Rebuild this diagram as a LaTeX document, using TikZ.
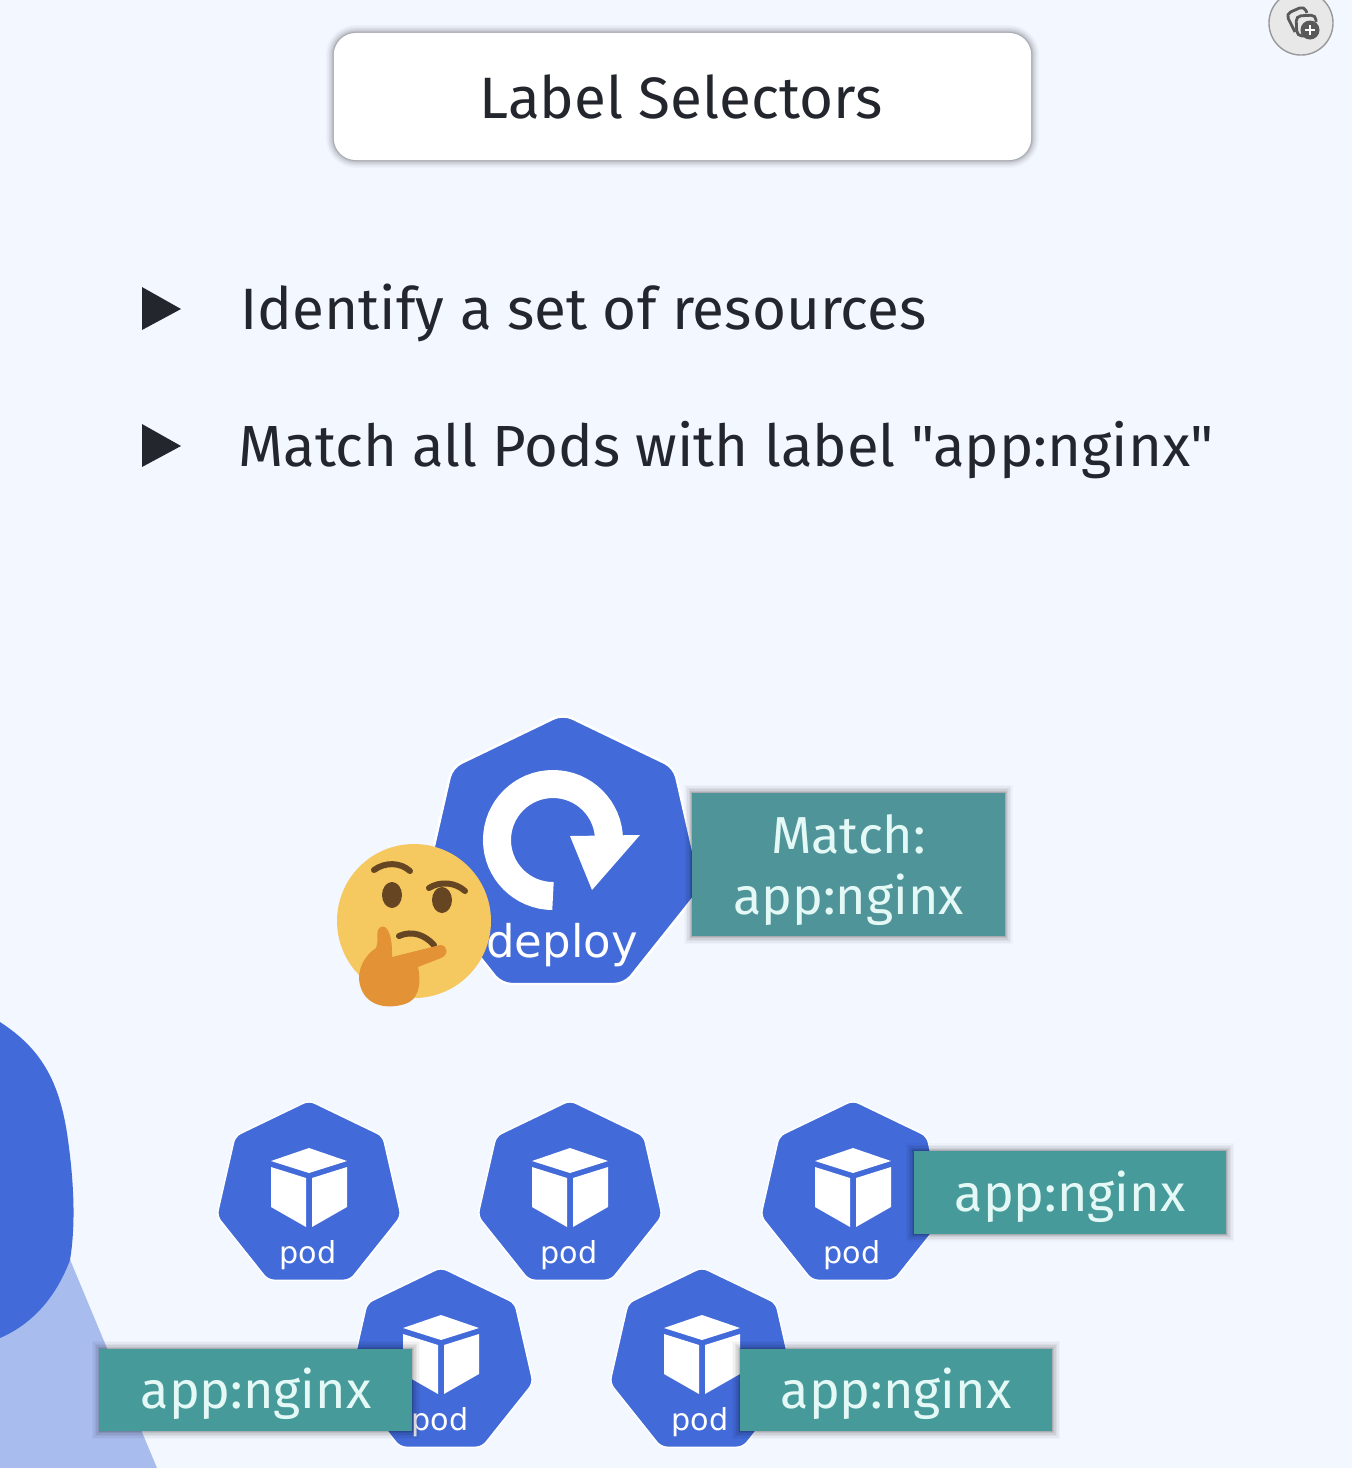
\documentclass[tikz,border=0pt]{standalone}
\usepackage{fontspec}
\newfontfamily\textofont{Fira Sans}
\newfontfamily\iconfont{DejaVu Sans}
\usetikzlibrary{shapes.geometric}
\definecolor{fundo}{HTML}{F3F7FF}
\definecolor{azul}{HTML}{426AD9}
\definecolor{azulclaro}{HTML}{A8BCEE}
\definecolor{teal}{HTML}{469A9A}
\definecolor{tealmatch}{HTML}{4F9499}
\definecolor{rotulo}{HTML}{E4F8F6}
\definecolor{escuro}{HTML}{24262E}
\definecolor{rosto}{HTML}{F5C860}
\definecolor{mao}{HTML}{E39335}
\definecolor{olho}{HTML}{664522}
\begin{document}
\begin{tikzpicture}[
                x=0.01cm, y=-0.01cm,
                sombra/.style={
                    preaction={draw=black, draw opacity=0.025, line width=0.16cm},
                    preaction={draw=black, draw opacity=0.035, line width=0.13cm},
                    preaction={draw=black, draw opacity=0.045, line width=0.10cm},
                    preaction={draw=black, draw opacity=0.06, line width=0.07cm},
                    preaction={draw=black, draw opacity=0.08, line width=0.04cm},
                    preaction={draw=black, draw opacity=0.10, line width=0.02cm}},
                titulo/.style={sombra, fill=white, rounded corners=0.22cm, minimum width=6.97cm, minimum height=1.27cm},
                item/.style={anchor=base west, inner sep=0pt, text=escuro, font=\textofont\fontsize{16.6pt}{18pt}\selectfont},
                bala/.style={fill=escuro},
                hepta/.style={shape=regular polygon, regular polygon sides=7, fill=azul, draw=white, line width=0.4pt, rounded corners=0.06cm, inner sep=0pt},
                pod/.style={hepta, minimum size=1.89cm},
                deploy/.style={hepta, minimum size=2.84cm, rounded corners=0.1cm, line width=0.7pt},
                nome/.style={text=white, inner sep=0pt, font=\iconfont\fontsize{8.6pt}{10pt}\selectfont},
                cubo/.style={fill=white},
                caixarot/.style={sombra, fill=teal, text=rotulo, inner sep=0pt, minimum width=3.12cm, font=\textofont\fontsize{14.8pt}{17.6pt}\selectfont},
                rotulo/.style={caixarot, minimum height=0.82cm, text height=11pt, text depth=0.4pt},
                match/.style={caixarot, fill=tealmatch, minimum height=1.43cm, align=center, text depth=0pt},
                pics/podcubo/.style={code={
                    \fill[cubo] (0,-48) -- (38,-35) -- (0,-23) -- (-38,-35) -- cycle;
                    \fill[cubo] (-38,-29) -- (-3,-18) -- (-3,31) -- (-38,11) -- cycle;
                    \fill[cubo] (38,-29) -- (3,-18) -- (3,31) -- (38,11) -- cycle;
                }},
            ]
            \useasboundingbox (0,0) rectangle (1352,1468);
            \fill[fundo] (0,0) rectangle (1352,1468);

            % decoracao da esquerda
            \fill[azulclaro] (66,1250) -- (157,1468) -- (0,1468) -- (0,1300) -- cycle;
            \fill[azul] (0,1022) .. controls (40,1048) and (60,1080) .. (68,1140)
                .. controls (75,1190) and (75,1230) .. (70,1260)
                .. controls (55,1300) and (30,1325) .. (0,1338) -- cycle;

            % icone do canto
            \node[shape=circle, fill=black!9, draw=black!40, line width=0.4pt, minimum size=0.64cm, inner sep=0pt] (icone) at (1301,23) {};
            \draw[black!65, line width=0.8pt, rounded corners=0.05cm] (1295,32) -- (1286,14) -- (1304,6) -- (1307,13);
            \draw[black!65, line width=0.8pt, rounded corners=0.05cm] (1309,36) -- (1297,36) -- (1296,16) -- (1316,15) -- (1316,22);
            \node[shape=circle, fill=black!65, minimum size=0.19cm, inner sep=0pt] (mais) at (1310,30) {};
            \draw[white, line width=0.6pt] (1310,25) -- (1310,35) (1305,30) -- (1315,30);

            % titulo
            \node[titulo] (caixa) at (682.5,96.5) {};
            \node[text=escuro, inner sep=0pt, font=\textofont\fontsize{16.6pt}{18pt}\selectfont] (tit) at (681,97) {Label Selectors};

            % itens
            \fill[bala] (142,287) -- (181,309) -- (142,330) -- cycle;
            \node[item] (um) at (240,329) {Identify a set of resources};
            \fill[bala] (142,424) -- (181,446) -- (142,467) -- cycle;
            \node[item, font=\textofont\fontsize{16.5pt}{18pt}\selectfont] (dois) at (238,466) {Match all Pods with label "app:nginx"};

            % deploy
            \node[deploy] (dep) at (563,856) {};
            \draw[white, line width=0.28cm] (553,896) arc (90:360:56);
            \fill[white] (570,836) -- (640,835) -- (592,890) -- cycle;
            \node[nome, font=\iconfont\fontsize{12.8pt}{15pt}\selectfont] (deptxt) at (562,945) {deploy};
            \node[match] (casa) at (848.5,864.5) {Match:\\app:nginx};

            % emoji
            \fill[rosto] (414,921) circle (77);
            \draw[olho, line width=0.06cm, line cap=round] (374,870) .. controls (385,862) and (400,862) .. (410,871);
            \draw[olho, line width=0.06cm, line cap=round] (429,888) .. controls (440,881) and (455,882) .. (465,891);
            \fill[olho] (392,895) ellipse (10 and 13);
            \fill[olho] (442,900) ellipse (10 and 13);
            \draw[olho, line width=0.06cm, line cap=round] (399,936) .. controls (412,930) and (425,935) .. (434,945);
            \fill[mao] (378,930) .. controls (382,922) and (393,926) .. (392,957)
                -- (440,945) .. controls (448,945) and (449,955) .. (441,958)
                -- (418,967) .. controls (422,985) and (418,1000) .. (405,1004)
                .. controls (385,1010) and (365,1005) .. (360,985)
                .. controls (356,970) and (365,955) .. (376,948)
                .. controls (379,940) and (376,936) .. (378,930) -- cycle;

            % pods
            \node[pod] (p1) at (309,1195) {};
            \node[pod] (p2) at (570,1195) {};
            \node[pod] (p3) at (853,1195) {};
            \node[pod] (p4) at (441,1362) {};
            \node[pod] (p5) at (702,1362) {};
            \pic at (309,1196) {podcubo};
            \pic at (570,1196) {podcubo};
            \pic at (853,1196) {podcubo};
            \pic at (441,1363) {podcubo};
            \pic at (702,1363) {podcubo};
            \node[nome] (t1) at (308,1255) {pod};
            \node[nome] (t2) at (569,1255) {pod};
            \node[nome] (t3) at (852,1255) {pod};
            \node[nome] (t4) at (440,1422) {pod};
            \node[nome] (t5) at (700,1422) {pod};

            % rotulos
            \node[rotulo] (r3) at (1070,1192.5) {app:nginx};
            \node[rotulo] (r4) at (256,1390) {app:nginx};
            \node[rotulo] (r5) at (896,1390) {app:nginx};
        \end{tikzpicture}
\end{document}
